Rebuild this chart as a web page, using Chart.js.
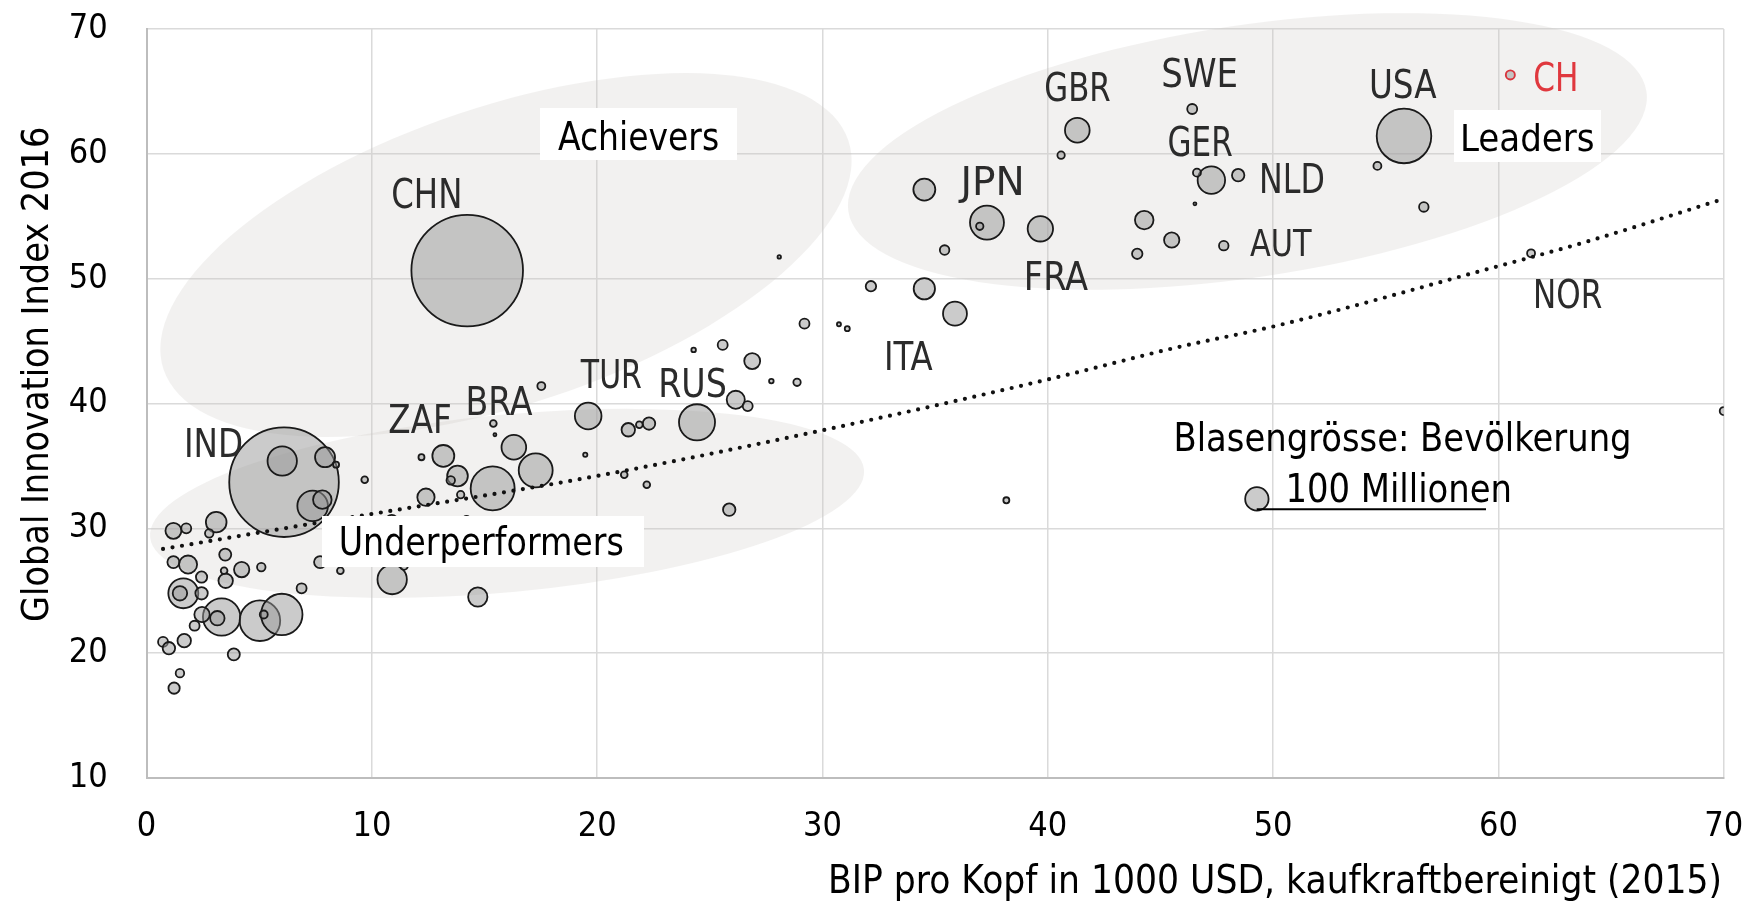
<!DOCTYPE html>
<html><head><meta charset="utf-8">
<script src="https://cdn.jsdelivr.net/npm/chart.js@4.4.1/dist/chart.umd.min.js"></script>
<style>html,body{margin:0;padding:0;background:#fff;overflow:hidden}canvas{display:block}</style>
</head><body>
<canvas id="c" width="1755" height="903"></canvas>
<script>
const FONT = "'DejaVu Sans Condensed','Liberation Sans Narrow',sans-serif";

// ---- data ----
const gdp = [14.23,6.1,6.02,7.92,8.41,7.37,7.8,9.68,1.19,1.76,3.09,2.78,1.19,1.84,3.49,2.44,4.22,3.44,3.51,5.09,7.7,8.6,6.88,
  1.63,1.48,2.44,3.33,3.14,2.46,2.13,5.03,6.0,5.2,0.73,0.99,1.67,3.87,1.48,1.22,10.9,14.7,13.17,12.2,13.8,13.5,12.4,13.94,
  15.39,15.46,11.42,10.88,14.2,17.52,16.3,17.27,15.36,19.47,21.2,22.2,25.86,19.6,21.38,21.87,22.3,24.43,26.15,26.68,26.88,
  25.57,24.28,27.73,28.87,28.08,29.2,30.73,31.1,38.16,34.52,37.3,36.98,35.42,39.67,41.31,40.59,46.41,47.26,46.62,48.45,
  46.53,44.28,45.5,43.97,47.81,34.52,35.88,32.15,55.81,54.63,56.69,61.45,70.0];
const gii = [50.65,33.7,35.4,35.7,35.1,31.8,32.3,33.9,29.8,30.0,30.5,29.6,27.3,27.1,27.9,26.1,26.7,26.6,25.8,26.9,27.3,26.6,25.2,
  24.8,24.8,24.8,22.9,22.8,23.1,22.2,22.6,23.1,23.1,20.9,20.4,21.0,19.9,18.4,17.2,25.9,24.5,35.8,35.7,34.2,33.85,32.5,32.7,
  38.4,37.5,27.0,30.6,30.75,41.4,36.5,34.65,33.2,35.9,34.3,33.5,31.5,39.0,37.9,38.3,38.4,38.5,40.3,39.8,43.4,
  44.7,44.3,41.8,41.7,51.75,46.4,46.35,46.0,32.25,57.14,54.5,54.2,52.3,54.0,61.9,59.9,63.6,57.9,58.5,58.3,
  56.0,54.7,53.1,52.0,52.65,49.2,47.2,49.4,61.44,59.04,55.75,52.04,39.4];
const pop = [1371,1322,95,44,4,103,38,5,28,11,47,8,16,36,16,14,26,5,23,8,16,5,11,
  99,23,17,154,23,26,11,181,189,7,11,17,20,16,8,14,95,41,53,4,47,8,33,6,
  5,1,7,16,4,7,67,127,213,2,5,5,17,78,20,5,17,143,36,11,28,
  11,2.3,2.3,6,1.3,11,1.8,2.8,4,53,127,6,10,71,67,6,11,83,7,17,
  1,38,26,12,10,50,63,12,328,7,10,7,7];
const chGdp = [60.53], chGii = [66.33], chPop = [9];
const legendGdp = [49.28], legendGii = [32.36];
const trendX = [0.73, 7.76, 10.36, 20.0, 30.55, 40.24, 45.57, 50.3, 59.92, 63.92, 70];
const trendY = [28.35, 30.5, 31.26, 34.2, 38.07, 42.03, 44.43, 46.3, 50.97, 52.97, 56.4];
const xTicks = [0,10,20,30,40,50,60,70];
const yTicks = [10,20,30,40,50,60,70];

// ---- layout / annotation config (pixels) ----
const AREA = {left: 146.6, top: 29.1, right: 1723.7, bottom: 778};
const radius = p => 1.507 * Math.sqrt(p);
const ellipses = [
  {cx: 15.95, cy: 51.9, a: 361, b: 149, rot: -18.5},
  {cx: 48.86, cy: 60.2, a: 403.5, b: 126, rot: -8.55},
  {cx: 16.0, cy: 32.0, a: 358.5, b: 88.7, rot: -5.4}
];
const countryText = [
  ['CHN',393,460,208,30],['IND',186.7,241.7,457,29],['ZAF',389.3,450.7,433.3,28.3],['BRA',468.3,532.7,415,28.3],
  ['TUR',580,641.7,388.3,28.3],['RUS',661,725.7,396.7,28.3],['ITA',886.7,932.7,370,28.3],['JPN',958.3,1021.7,195,29],
  ['FRA',1026.7,1088.3,290,28.3],['GBR',1046,1110,100.7,29],['SWE',1163.3,1236,86.7,28.3],['GER',1169.3,1232.7,156,29.3],
  ['NLD',1261.7,1323.3,192.7,29.3],['AUT',1250,1311.7,256,27.7],['USA',1371.7,1436.7,98.3,28.3],['NOR',1535.8,1601.4,308,28]
];
const boxes = [
  {t:'Achievers', box:[540,108,737,160], l:558, r:718, base:150, cap:28.3},
  {t:'Underperformers', box:[322,516,644,567], l:341.5, r:622.8, base:555, cap:28.3},
  {t:'Leaders', box:[1454,110,1601,162], l:1463, r:1593, base:150.7, cap:27.4}
];

function fitText(ctx, t, left, right, base, cap, color){
  ctx.save();
  ctx.font = '100px ' + FONT;
  const capR = ctx.measureText('H').actualBoundingBoxAscent / 100;
  const size = cap / capR;
  ctx.font = size + 'px ' + FONT;
  ctx.textAlign = 'left'; ctx.textBaseline = 'alphabetic';
  const m = ctx.measureText(t);
  const w = m.actualBoundingBoxLeft + m.actualBoundingBoxRight;
  const sx = (right - left) / w;
  ctx.translate(left, base);
  ctx.scale(sx, 1);
  ctx.fillStyle = color;
  ctx.fillText(t, m.actualBoundingBoxLeft, 0);
  ctx.restore();
}

// pin the plot area to the reference position
const pinArea = {
  id: 'pinArea',
  afterLayout(chart){
    const ca = chart.chartArea;
    ca.left = AREA.left; ca.top = AREA.top; ca.right = AREA.right; ca.bottom = AREA.bottom;
    ca.width = AREA.right - AREA.left; ca.height = AREA.bottom - AREA.top;
    const x = chart.scales.x, y = chart.scales.y;
    x.left = AREA.left; x.right = AREA.right; x.width = ca.width;
    x.top = AREA.bottom; x.bottom = chart.height; x.height = chart.height - AREA.bottom;
    x.configure();
    y.top = AREA.top; y.bottom = AREA.bottom; y.height = ca.height;
    y.left = 0; y.right = AREA.left; y.width = AREA.left;
    y.configure();
  }
};

const deco = {
  id: 'deco',
  beforeDatasetsDraw(chart){
    const {ctx, scales:{x, y}} = chart;
    ctx.save();
    ctx.fillStyle = 'rgba(205,200,195,0.25)';
    ellipses.forEach(e => {
      ctx.beginPath();
      ctx.ellipse(x.getPixelForValue(e.cx), y.getPixelForValue(e.cy), e.a, e.b, e.rot*Math.PI/180, 0, Math.PI*2);
      ctx.fill();
    });
    ctx.restore();
  },
  afterDatasetsDraw(chart){
    const {ctx} = chart;
    ctx.save();
    countryText.forEach(c => fitText(ctx, c[0], c[1], c[2], c[3], c[4], '#2b2b2b'));
    fitText(ctx, 'CH', 1535, 1576, 90.7, 29, '#e0383e');
    boxes.forEach(b => {
      ctx.fillStyle = '#fff';
      ctx.fillRect(b.box[0], b.box[1], b.box[2]-b.box[0], b.box[3]-b.box[1]);
      fitText(ctx, b.t, b.l, b.r, b.base, b.cap, '#000');
    });
    fitText(ctx, 'Blasengrösse: Bevölkerung', 1176.4, 1628.7, 450.7, 28, '#000');
    fitText(ctx, '100 Millionen', 1288.3, 1510, 501.7, 28.3, '#000');
    ctx.strokeStyle = '#000'; ctx.lineWidth = 2;
    ctx.beginPath(); ctx.moveTo(1256.7, 509.3); ctx.lineTo(1486, 509.3); ctx.stroke();
    fitText(ctx, 'BIP pro Kopf in 1000 USD, kaufkraftbereinigt (2015)', 831, 1719.5, 893.3, 28.3, '#000');
    ctx.save();
    ctx.translate(47.7, 621);
    ctx.rotate(-Math.PI/2);
    fitText(ctx, 'Global Innovation Index 2016', 0, 492.3, 0, 26.8, '#000');
    ctx.restore();
    ctx.restore();
  }
};

const bubbleFill = 'rgba(151,151,151,0.5)';
new Chart(document.getElementById('c'), {
  type: 'bubble',
  data: {
    datasets: [
      {
        type: 'line', order: 0,
        data: trendX.map((v,i)=>({x:v, y:trendY[i]})),
        borderColor: '#111', borderWidth: 4.2, borderDash: [0, 9.6], borderCapStyle: 'round',
        pointRadius: 0, cubicInterpolationMode: 'monotone', fill: false
      },
      {
        order: 1,
        data: gdp.map((v,i)=>({x:v, y:gii[i], r: radius(pop[i])})),
        backgroundColor: bubbleFill, borderColor: '#1a1a1a', borderWidth: 1.8
      },
      {
        order: 1,
        data: chGdp.map((v,i)=>({x:v, y:chGii[i], r: radius(chPop[i])})),
        backgroundColor: bubbleFill, borderColor: '#d9363e', borderWidth: 1.9
      },
      {
        order: 1,
        data: legendGdp.map((v,i)=>({x:v, y:legendGii[i], r: 11.7})),
        backgroundColor: bubbleFill, borderColor: '#1a1a1a', borderWidth: 1.8
      }
    ]
  },
  options: {
    responsive: false, animation: false, events: [],
    layout: {padding: {top: 29.1, right: 31.3, left: 0, bottom: 0}},
    plugins: {legend: {display: false}, tooltip: {enabled: false}},
    scales: {
      x: {
        type: 'linear', min: 0, max: 70,
        afterFit: s => { s.height = 125; },
        afterBuildTicks: s => { s.ticks = xTicks.map(v => ({value: v})); },
        grid: {color: '#dadada', lineWidth: 1.5, drawTicks: false},
        border: {color: '#bdbdbd', width: 2},
        ticks: {color: '#000', padding: 29, font: {family: FONT, size: 34}, maxRotation: 0}
      },
      y: {
        type: 'linear', min: 10, max: 70,
        afterFit: s => { s.width = 146.6; },
        afterBuildTicks: s => { s.ticks = yTicks.map(v => ({value: v})); },
        grid: {color: '#dadada', lineWidth: 1.5, drawTicks: false},
        border: {color: '#bdbdbd', width: 2},
        ticks: {color: '#000', padding: 39, font: {family: FONT, size: 34}}
      }
    }
  },
  plugins: [pinArea, deco]
});
</script>
</body></html>
